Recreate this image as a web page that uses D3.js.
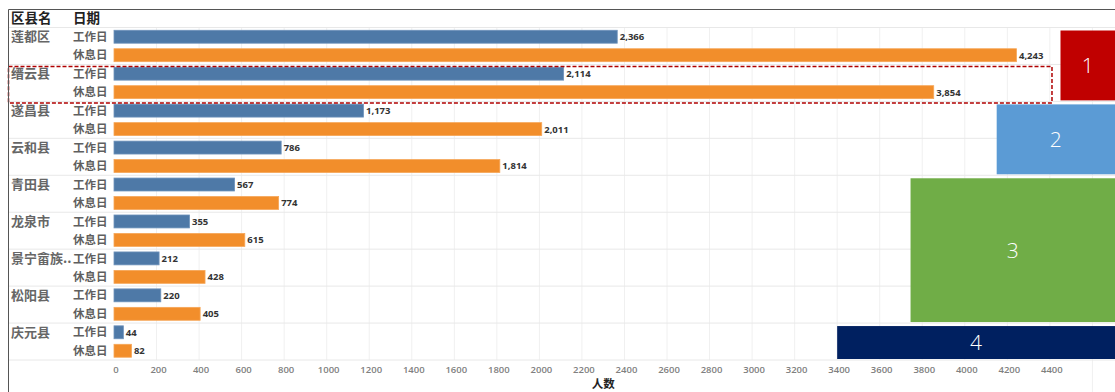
<!DOCTYPE html>
<html>
<head>
<meta charset="utf-8">
<script src="https://cdn.jsdelivr.net/npm/d3@7"></script>
<style>
  html, body { margin: 0; padding: 0; background: #fff; }
  svg { display: block; }
</style>
</head>
<body>
<svg id="chart" width="1115" height="392"></svg>
<script>
// Visitor counts per county, split by weekday type
const counties = ["莲都区", "缙云县", "遂昌县", "云和县", "青田县", "龙泉市", "景宁畲族..", "松阳县", "庆元县"];
const dayTypes = ["工作日", "休息日"];
const workdayValues = [2366, 2114, 1173, 786, 567, 355, 212, 220, 44];
const restdayValues = [4243, 3854, 2011, 1814, 774, 615, 428, 405, 82];
const tickValues = [0, 200, 400, 600, 800, 1000, 1200, 1400, 1600, 1800, 2000, 2200,
                    2400, 2600, 2800, 3000, 3200, 3400, 3600, 3800, 4000, 4200, 4400];
const gridValues = tickValues.concat([4600]);

// Tier call-outs on the right: label, first county, last county, starting axis value
const tierLabels = ["1", "2", "3", "4"];
const tierFirst = ["莲都区", "遂昌县", "青田县", "庆元县"];
const tierLast = ["缙云县", "云和县", "松阳县", "庆元县"];
const tierFrom = [4450, 4150, 3745, 3400];
const tierColors = ["#c00000", "#5b9bd5", "#70ad47", "#002060"];

// Highlighted county
const highlighted = "缙云县";

const svg = d3.select("#chart");
const W = 1115, H = 392;
const cjk = "'Noto Sans CJK SC', 'Noto Sans', sans-serif";
const num = "'Open Sans', 'Noto Sans', sans-serif";

const x = d3.scaleLinear().domain([0, 4600]).range([114, 1092.4]);
const yGroup = d3.scaleBand().domain(counties).range([27.5, 360]).padding(0);
const yRow = d3.scaleBand().domain(dayTypes).range([0, yGroup.bandwidth()])
  .paddingInner(0.3).paddingOuter(0.15);
const color = d3.scaleOrdinal().domain(dayTypes).range(["#4e79a7", "#f28e2b"]);

const rows = [];
counties.forEach((c, i) => {
  rows.push({ county: c, day: dayTypes[0], value: workdayValues[i] });
  rows.push({ county: c, day: dayTypes[1], value: restdayValues[i] });
});

// vertical gridlines
svg.append("g").selectAll("line").data(gridValues.filter(v => v > 0)).join("line")
  .attr("x1", d => x(d)).attr("x2", d => x(d))
  .attr("y1", 27.5).attr("y2", d => d === 4600 ? H : 360)
  .attr("stroke", "#f0f0f0").attr("stroke-width", 1);

// horizontal row separators
const seps = [27.5].concat(counties.map(c => yGroup(c) + yGroup.bandwidth()));
svg.append("g").selectAll("line").data(seps).join("line")
  .attr("x1", 9).attr("x2", W)
  .attr("y1", d => d).attr("y2", d => d)
  .attr("stroke", "#e8e8e8").attr("stroke-width", 1);

// bars
svg.append("g").selectAll("rect").data(rows).join("rect")
  .attr("x", x(0))
  .attr("y", d => yGroup(d.county) + yRow(d.day))
  .attr("width", d => x(d.value) - x(0))
  .attr("height", yRow.bandwidth())
  .attr("fill", d => color(d.day))
  .attr("stroke", d => d.day === dayTypes[0] ? "#6f93bb" : "#f6a658")
  .attr("stroke-width", 0.8);

// value labels
const fmt = d3.format(",");
svg.append("g").selectAll("text").data(rows).join("text")
  .attr("x", d => x(d.value) + 2.5)
  .attr("y", d => yGroup(d.county) + yRow(d.day) + yRow.bandwidth() / 2)
  .attr("dy", "0.36em")
  .attr("font-family", num).attr("font-size", 9.5).attr("font-weight", 700)
  .attr("fill", "#333")
  .text(d => fmt(d.value));

// county labels
svg.append("g").selectAll("text").data(counties).join("text")
  .attr("x", 11)
  .attr("y", c => yGroup(c) + yRow(dayTypes[0]) + yRow.bandwidth() / 2)
  .attr("dy", "0.36em")
  .attr("font-family", cjk).attr("font-size", 13).attr("font-weight", 700)
  .attr("fill", "#666")
  .text(c => c);

// day-type labels
svg.append("g").selectAll("text").data(rows).join("text")
  .attr("x", 73)
  .attr("y", d => yGroup(d.county) + yRow(d.day) + yRow.bandwidth() / 2)
  .attr("dy", "0.36em")
  .attr("font-family", cjk).attr("font-size", 11.5).attr("font-weight", 700)
  .attr("fill", "#5f5f5f")
  .text(d => d.day);

// header
svg.append("text").attr("x", 11).attr("y", 18).attr("dy", "0.36em")
  .attr("font-family", cjk).attr("font-size", 13.5).attr("font-weight", 700)
  .attr("fill", "#222").text("区县名");
svg.append("text").attr("x", 73).attr("y", 18).attr("dy", "0.36em")
  .attr("font-family", cjk).attr("font-size", 13.5).attr("font-weight", 700)
  .attr("fill", "#222").text("日期");

// x axis tick labels
svg.append("g").selectAll("text").data(tickValues).join("text")
  .attr("x", d => x(d) + 2)
  .attr("y", 370).attr("dy", "0.36em")
  .attr("text-anchor", "middle")
  .attr("font-family", num).attr("font-size", 9.5).attr("font-weight", 600)
  .attr("fill", "#808080")
  .text(d => d);

// axis title
svg.append("text")
  .attr("x", (x(0) + x(4600)) / 2).attr("y", 384).attr("dy", "0.36em")
  .attr("text-anchor", "middle")
  .attr("font-family", cjk).attr("font-size", 11.5).attr("font-weight", 700)
  .attr("fill", "#222").text("人数");

// tier call-out boxes
const tiers = tierLabels.map((t, i) => ({
  label: t,
  x0: x(tierFrom[i]),
  y0: yGroup(tierFirst[i]) + 3,
  y1: yGroup(tierLast[i]) + yGroup.bandwidth() - 1,
  color: tierColors[i]
}));
const tg = svg.append("g").selectAll("g").data(tiers).join("g");
tg.append("rect")
  .attr("x", d => d.x0).attr("y", d => d.y0)
  .attr("width", d => W - d.x0).attr("height", d => d.y1 - d.y0)
  .attr("fill", d => d.color);
tg.append("text")
  .attr("x", d => (d.x0 + W) / 2).attr("y", d => (d.y0 + d.y1) / 2)
  .attr("dy", "0.36em").attr("text-anchor", "middle")
  .attr("font-family", "'Open Sans', 'Liberation Sans', sans-serif")
  .attr("font-size", 21).attr("font-weight", 300)
  .attr("fill", "#fff").text(d => d.label);

// dashed highlight around one county
svg.append("rect")
  .attr("x", 8.5).attr("y", yGroup(highlighted) + 2)
  .attr("width", x(4410) - 8.5).attr("height", yGroup.bandwidth() - 0.5)
  .attr("fill", "none").attr("stroke", "#b00000").attr("stroke-width", 1.5)
  .attr("stroke-dasharray", "4,2");

// outer frame (top and left edges)
svg.append("path")
  .attr("d", `M8.5,${H} V9.5 H${W}`)
  .attr("fill", "none").attr("stroke", "#555").attr("stroke-width", 1);
</script>
</body>
</html>
